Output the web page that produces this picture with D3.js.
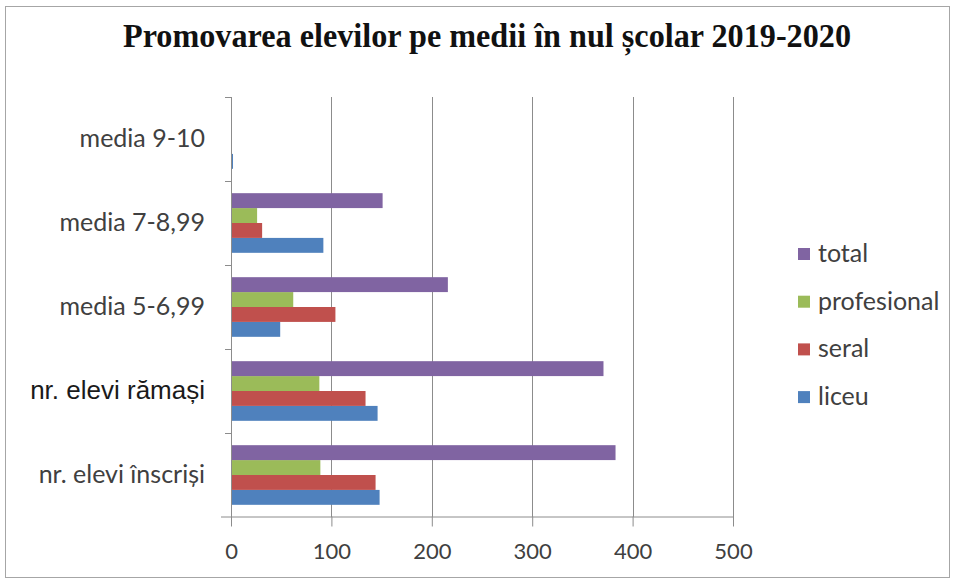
<!DOCTYPE html>
<html>
<head>
<meta charset="utf-8">
<script src="https://cdn.jsdelivr.net/npm/d3@7"></script>
<style>
  body { margin: 0; background: #fff; }
  svg { display: block; }
</style>
</head>
<body>
<div id="chart"></div>
<script>
// categories, bottom to top as in the picture
var categories = ["nr. elevi înscriși", "nr. elevi rămași", "media 5-6,99", "media 7-8,99", "media 9-10"];
var seriesNames = ["liceu", "seral", "profesional", "total"];
var seriesColors = ["#4F81BD", "#C0504D", "#9BBB59", "#8064A2"];
var liceu = [148, 146, 49, 92, 2];
var seral = [144, 134, 104, 31, 0];
var profesional = [89, 88, 62, 26, 0];
var total = [383, 371, 216, 151, 0];
var xTicks = [0, 100, 200, 300, 400, 500];

var W = 956, H = 582;
var plot = { left: 231, right: 733, top: 97, bottom: 517 };
var LABEL_FONT = "Lato, 'Open Sans', sans-serif";

var svg = d3.select("#chart").append("svg")
    .attr("width", W)
    .attr("height", H);

svg.append("rect")
    .attr("x", 5.5).attr("y", 6.5)
    .attr("width", 944).attr("height", 571)
    .attr("fill", "#fff")
    .attr("stroke", "#a6a6a6");

svg.append("text")
    .attr("x", 123).attr("y", 47)
    .attr("textLength", 728)
    .attr("lengthAdjust", "spacingAndGlyphs")
    .style("font-family", "'Liberation Serif', serif")
    .style("font-weight", "bold")
    .style("font-size", "34px")
    .attr("fill", "#111")
    .text("Promovarea elevilor pe medii în nul școlar 2019-2020");

var x = d3.scaleLinear().domain([0, 500]).range([plot.left, plot.right]);
var y = d3.scaleBand().domain(categories.slice().reverse())
    .range([plot.top, plot.bottom]).paddingInner(0.29).paddingOuter(0.145);
var ySeries = d3.scaleBand().domain(seriesNames.slice().reverse())
    .range([0, y.bandwidth()]);

// grid lines
svg.append("g").selectAll("line")
    .data(xTicks.slice(1))
    .enter().append("line")
    .attr("x1", function (d) { return Math.round(x(d)) + 0.5; })
    .attr("x2", function (d) { return Math.round(x(d)) + 0.5; })
    .attr("y1", plot.top).attr("y2", plot.bottom)
    .attr("stroke", "#8c8c8c")
    .attr("stroke-width", 1);

var series = [liceu, seral, profesional, total];
var rows = [];
categories.forEach(function (c, i) {
    seriesNames.forEach(function (s, j) {
        rows.push({ cat: c, name: s, value: series[j][i], color: seriesColors[j] });
    });
});

svg.append("g").selectAll("rect")
    .data(rows)
    .enter().append("rect")
    .attr("x", x(0))
    .attr("y", function (d) { return y(d.cat) + ySeries(d.name); })
    .attr("width", function (d) { return x(d.value) - x(0); })
    .attr("height", ySeries.bandwidth())
    .attr("fill", function (d) { return d.color; });

// x axis
var xAxis = svg.append("g")
    .attr("transform", "translate(0," + (plot.bottom - 0.5) + ")")
    .call(d3.axisBottom(x).tickValues(xTicks).tickSize(10).tickPadding(17));
xAxis.select(".domain").attr("stroke", "#8c8c8c").attr("d", "M" + (plot.left - 10) + ",0.5H" + plot.right);
xAxis.selectAll(".tick line").attr("stroke", "#8c8c8c");
xAxis.selectAll("text")
    .style("font-family", LABEL_FONT)
    .style("font-size", "22px")
    .attr("fill", "#404040");

// y axis
var yAxisLine = svg.append("g");
yAxisLine.append("line")
    .attr("x1", plot.left + 0.5).attr("x2", plot.left + 0.5)
    .attr("y1", plot.top).attr("y2", plot.bottom)
    .attr("stroke", "#8c8c8c");
var bounds = categories.map(function (c) { return y(c) - y.step() * y.paddingInner() / 2; });
yAxisLine.selectAll(".yt")
    .data(bounds)
    .enter().append("line")
    .attr("x1", plot.left - 6).attr("x2", plot.left)
    .attr("y1", function (d) { return Math.round(d) + 0.5; })
    .attr("y2", function (d) { return Math.round(d) + 0.5; })
    .attr("stroke", "#8c8c8c");

svg.append("g").selectAll("text")
    .data(categories)
    .enter().append("text")
    .attr("x", 205)
    .attr("y", function (d) { return y(d) + y.bandwidth() / 2 + 8; })
    .attr("text-anchor", "end")
    .style("font-family", function (d) {
        return d === "nr. elevi rămași" ? "'Liberation Sans', Arial, sans-serif" : LABEL_FONT;
    })
    .style("font-size", function (d) { return d === "nr. elevi rămași" ? "26px" : "25px"; })
    .attr("fill", function (d) { return d === "nr. elevi rămași" ? "#1a1a1a" : "#404040"; })
    .text(function (d) { return d; });

// legend, top to bottom
var legendNames = seriesNames.slice().reverse();
var legendColors = seriesColors.slice().reverse();
var legend = svg.append("g").selectAll("g")
    .data(legendNames)
    .enter().append("g")
    .attr("transform", function (d, i) { return "translate(798," + (254 + i * 47.7) + ")"; });
legend.append("rect")
    .attr("x", 0).attr("y", -6)
    .attr("width", 12).attr("height", 12)
    .attr("fill", function (d, i) { return legendColors[i]; });
legend.append("text")
    .attr("x", 20).attr("y", 8)
    .style("font-family", LABEL_FONT)
    .style("font-size", "25px")
    .attr("fill", "#404040")
    .text(function (d) { return d; });
</script>
</body>
</html>
